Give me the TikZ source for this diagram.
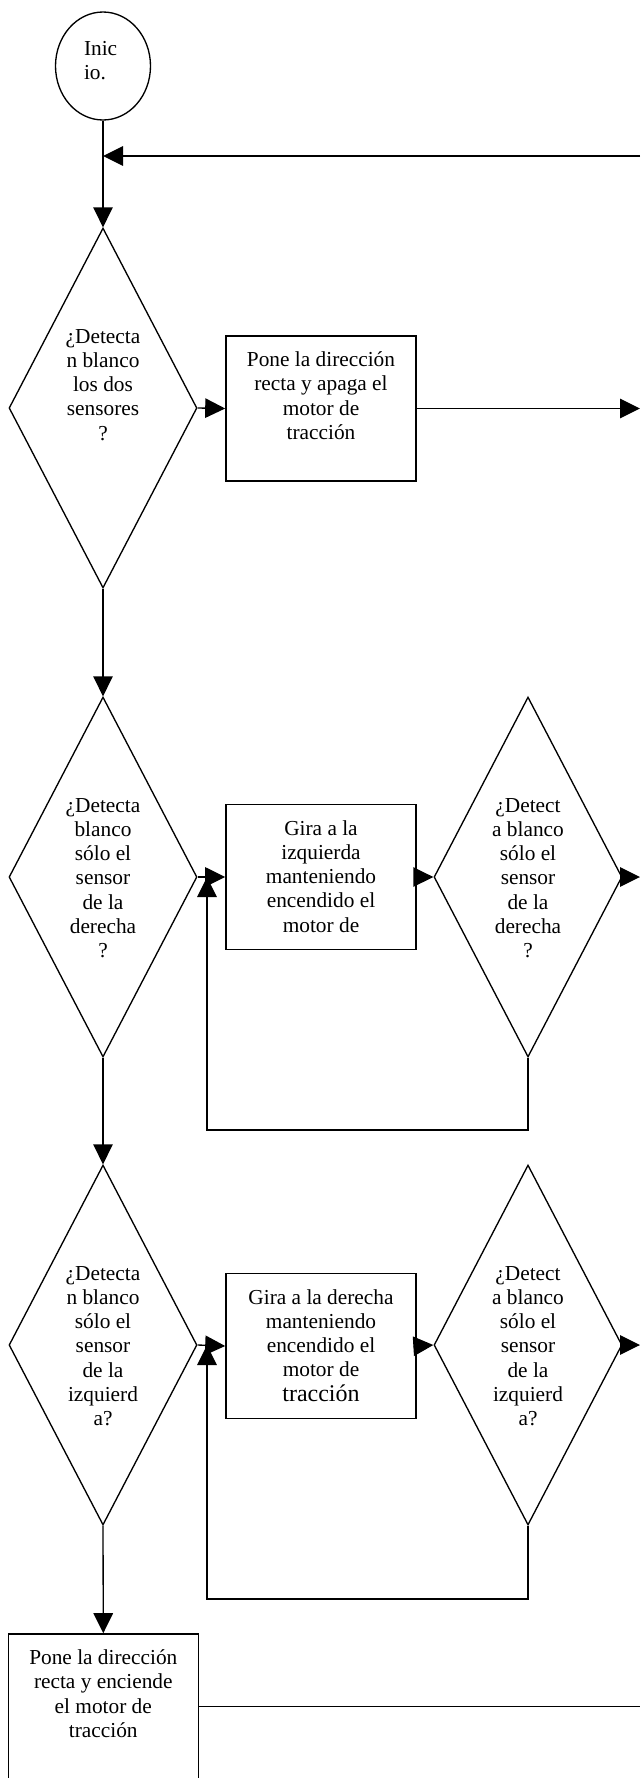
\documentclass[tikz,border=0pt]{standalone}
\usepackage{fontspec}
\setmainfont{Liberation Serif}
\usetikzlibrary{shapes.geometric,arrows.meta}

\tikzset{every picture/.style={line width=1pt}}
\tikzset{
  inicio/.style={draw, ellipse, inner sep=0pt, minimum width=71.25pt, minimum height=81pt},
  decision/.style={draw, diamond, aspect=0.52, inner sep=0pt, minimum width=141pt, minimum height=270pt},
  proceso/.style={draw, rectangle, line width=1.2pt, inner sep=0pt, minimum width=142.5pt, minimum height=108.75pt},
  flecha/.style={-{Triangle[length=15pt,width=14.6pt]}}
}
\newcommand{\txtinicio}[1]{\parbox[c][40.5pt][t]{28.5pt}{\raggedright\rule{0pt}{12pt}#1}}
\newcommand{\txtdecision}[1]{\parbox[c][132pt][t]{60pt}{\centering\rule{0pt}{17.25pt}#1}}
\newcommand{\txtproceso}[1]{\parbox[c][108pt][t]{122pt}{\centering\rule{0pt}{22.5pt}#1}}

\begin{document}
\begin{tikzpicture}[x=0.75pt,y=0.75pt,yscale=-1,xscale=1,font=\fontsize{16pt}{18.2pt}\selectfont]
\useasboundingbox (0,0) rectangle (640,1778);

%Ellipse
\draw (103,66) node [inicio] (ini) {\txtinicio{Inic\\io.}};
%Diamonds
\draw (103,408) node [decision] (d1) {\txtdecision{¿Detecta\\n blanco\\los dos\\sensores\\?}};
\draw (103,877) node [decision] (d2) {\txtdecision{¿Detecta\\blanco\\sólo el\\sensor\\de la\\derecha\\?}};
\draw (528,877) node [decision] (d3) {\txtdecision{¿Detect\\a blanco\\sólo el\\sensor\\de la\\derecha\\?}};
\draw (103,1345) node [decision] (d4) {\txtdecision{¿Detecta\\n blanco\\sólo el\\sensor\\de la\\izquierd\\a?}};
\draw (528,1345) node [decision] (d5) {\txtdecision{¿Detect\\a blanco\\sólo el\\sensor\\de la\\izquierd\\a?}};
%Rects
\draw (321,408.5) node [proceso] (b1) {\txtproceso{Pone la dirección\\recta y apaga el\\motor de\\tracción}};
\draw (321,877) node [proceso] (b2) {\txtproceso{Gira a la\\izquierda\\manteniendo\\encendido el\\motor de}};
\draw (321,1346) node [proceso] (b3) {\txtproceso{Gira a la derecha\\manteniendo\\encendido el\\motor de\\{\fontsize{18pt}{18.2pt}\selectfont tracción}}};
\draw (103.3,1706.5) node [proceso] (b4) {\txtproceso{Pone la dirección\\recta y enciende\\el motor de\\tracción}};

%Free ends
\coordinate (borde) at (640,156);
\coordinate (j2) at (207,877);
\coordinate (j4) at (207,1345);

%Straight Lines
\draw [flecha] (borde) -- (borde -| ini.south);
\draw [flecha] (ini.south) -- (d1.north);
\draw [flecha] (d1.south) -- (d2.north);
\draw [flecha] (d2.south) -- (d4.north);
\draw [flecha] (d4.south) -- (b4.north);
\draw [flecha] (d1.east) -- (b1.west);
\draw [flecha] (b1.east) -- (b1.east -| borde);
\draw [flecha] (d2.east) -- (b2.west);
\draw [flecha] (b2.east) -- (d3.west);
\draw [flecha] (d3.east) -- (d3.east -| borde);
\draw [flecha] (d3.south) -- ++(0,72.3) -| (j2);
\draw [flecha] (d4.east) -- (b3.west);
\draw [flecha] (b3.east) -- (d5.west);
\draw [flecha] (d5.east) -- (d5.east -| borde);
\draw [flecha] (d5.south) -- ++(0,73.3) -| (j4);
\draw (b4.east) -- (b4.east -| borde);

\end{tikzpicture}
\end{document}
